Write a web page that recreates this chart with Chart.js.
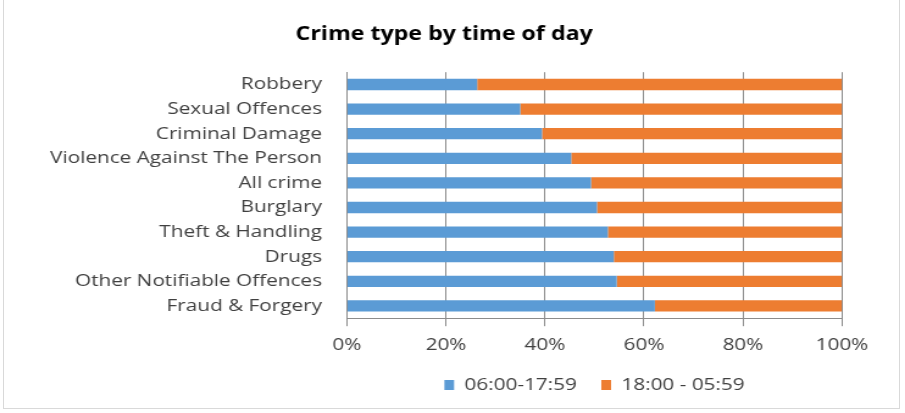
<!DOCTYPE html>
<html>
<head>
<meta charset="utf-8">
<script src="https://cdn.jsdelivr.net/npm/chart.js@4"></script>
<style>
html,body{margin:0;padding:0;background:#fff;overflow:hidden;}
#wrap{width:905px;height:413px;position:relative;overflow:hidden;background:#fff;}
#frame{position:absolute;left:3px;top:-1px;width:897px;height:410px;border:1px solid #d9d9d9;box-sizing:border-box;pointer-events:none;}
#c{position:absolute;left:0;top:0;width:742px;height:413px;transform:scaleX(1.2197);transform-origin:0 0;}
</style>
</head>
<body>
<div id="wrap"><canvas id="c" width="742" height="413"></canvas><div id="frame"></div></div>
<script>
const categories = ["Robbery","Sexual Offences","Criminal Damage","Violence Against The Person","All crime","Burglary","Theft & Handling","Drugs","Other Notifiable Offences","Fraud & Forgery"];
const dayShare = [26.3, 35.0, 39.4, 45.3, 49.3, 50.5, 52.7, 53.9, 54.5, 62.2];
const nightShare = [73.7, 65.0, 60.6, 54.7, 50.7, 49.5, 47.3, 46.1, 45.5, 37.8];
const seriesNames = ["06:00-17:59", "18:00 - 05:59"];
const tickValues = [0, 20, 40, 60, 80, 100];

const FONT = "'Open Sans', 'DejaVu Sans', sans-serif";

new Chart(document.getElementById('c'), {
  type: 'bar',
  data: {
    labels: categories,
    datasets: [
      { label: seriesNames[0], data: dayShare, backgroundColor: '#5B9BD5', borderWidth: 0 },
      { label: seriesNames[1], data: nightShare, backgroundColor: '#ED7D31', borderWidth: 0 }
    ]
  },
  options: {
    indexAxis: 'y',
    responsive: false,
    animation: false,
    devicePixelRatio: 1,
    layout: { padding: { left: 38, right: 51.7, top: 8, bottom: 9.5 } },
    datasets: { bar: { categoryPercentage: 1.0, barPercentage: 0.46 } },
    scales: {
      x: {
        stacked: true,
        min: 0, max: 100,
        afterBuildTicks(axis) { axis.ticks = tickValues.map(v => ({ value: v })); },
        afterFit(axis) { axis.height = 38.3; },
        ticks: {
          callback: v => v + '%',
          color: '#404040',
          font: { family: FONT, size: 17 },
          padding: 9.2,
          maxRotation: 0
        },
        grid: { color: '#8c8c8c', lineWidth: 1, drawTicks: true, tickLength: 8, tickColor: '#8c8c8c' },
        border: { display: true, color: '#8c8c8c' }
      },
      y: {
        stacked: true,
        afterFit(axis) { axis.width = 246.5; },
        ticks: {
          color: '#404040',
          font: { family: FONT, size: 17 },
          padding: 20.5,
          autoSkip: false
        },
        grid: { display: false, drawTicks: false },
        border: { display: true, color: '#8c8c8c' }
      }
    },
    plugins: {
      title: {
        display: true,
        text: 'Crime type by time of day',
        color: '#000',
        font: { family: FONT, size: 19, weight: 'bold' },
        padding: { top: 15.6, bottom: 25.8 }
      },
      legend: {
        position: 'bottom',
        fullSize: false,
        labels: {
          color: '#404040',
          font: { family: FONT, size: 17 },
          boxWidth: 8, boxHeight: 10,
          padding: 20
        }
      },
      tooltip: { enabled: false }
    }
  }
});
</script>
</body>
</html>
